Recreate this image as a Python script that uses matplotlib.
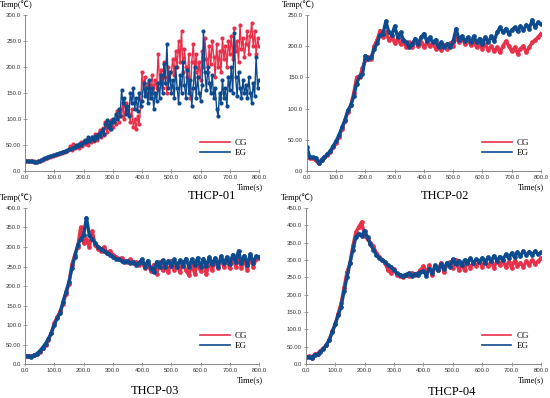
import numpy as np
import matplotlib.pyplot as plt
from matplotlib.lines import Line2D

# ---- data ----
t01 = np.arange(0, 801, 5)
cg01 = [20, 20, 19, 20, 19, 20, 19, 17, 18,
        19, 20, 21, 22, 23, 24, 25, 26, 27, 28, 29, 30,
        31, 33, 32, 35, 34, 37, 36, 39, 38, 42,
        48, 41, 52, 44, 46, 50, 45, 55, 48, 58,
        52, 60, 50, 62, 55, 65, 58, 72, 60, 70,
        78, 65, 82, 70, 95, 75, 88, 80, 98, 85,
        100, 90, 115, 95, 120, 105, 125, 100, 130, 115,
        110, 95, 120, 85, 100, 80, 105, 90, 125, 190,
        165, 180, 150, 170, 140, 165, 185, 150, 175, 160,
        225, 170, 195, 160, 210, 180, 150, 200, 175, 190,
        215, 185, 230, 200, 250, 210, 270, 190, 235, 200,
        180, 225, 140, 210, 245, 190, 225, 180, 210, 175,
        230, 200, 255, 215, 190, 240, 205, 250, 220, 180,
        245, 200, 230, 190, 255, 215, 240, 200, 250, 225,
        260, 215, 275, 230, 250, 210, 280, 235, 255, 220,
        245, 270, 225, 260, 285, 240, 270, 225, 255, 240]
eg01 = [20, 19, 20, 19, 20, 19, 18, 17, 18,
        19, 20, 22, 23, 24, 25, 26, 27, 28, 29, 30, 31,
        32, 33, 34, 35, 36, 37, 38, 39, 40, 42,
        43, 45, 44, 47, 49, 48, 52, 50, 54, 56,
        60, 55, 65, 58, 62, 66, 60, 68, 64, 72,
        68, 75, 80, 72, 90, 98, 85, 95, 80, 100,
        95, 110, 100, 120, 105, 155, 130, 140, 110, 125,
        105, 150, 130, 160, 120, 140, 115, 150, 125, 135,
        170, 145, 160, 130, 175, 140, 160, 120, 150, 135,
        170, 140, 185, 150, 205, 170, 245, 160, 190, 150,
        175, 140, 200, 160, 130, 185, 150, 210, 165, 140,
        195, 150, 175, 125, 160, 200, 140, 180, 150, 135,
        165, 270, 190, 155, 200, 170, 150, 185, 140, 160,
        120, 105, 150, 130, 175, 140, 160, 125, 180, 155,
        200, 150, 265, 180, 145, 190, 160, 140, 175, 150,
        165, 140, 180, 150, 130, 170, 145, 220, 160, 175]

t10 = np.arange(0, 801, 10)
cg02 = [22, 20, 20, 18, 12, 18, 22, 25, 30, 38,
        45, 55, 68, 80, 95, 105, 125, 150, 150, 165,
        178, 182, 180, 200, 210, 225, 215, 222, 210, 215,
        205, 212, 203, 210, 198, 206, 198, 208, 200, 207,
        198, 206, 200, 205, 196, 203, 194, 202, 196, 205,
        200, 215, 206, 212, 204, 210, 202, 208, 198, 204,
        196, 203, 194, 200, 192, 198, 190, 200, 208, 200,
        192, 198, 188, 196, 200, 190, 198, 206, 210, 214, 220]
eg02 = [38, 22, 22, 20, 13, 18, 22, 27, 32, 40,
        48, 58, 70, 82, 97, 105, 120, 140, 152, 155,
        185, 180, 182, 195, 205, 218, 220, 240, 222, 218,
        232, 215, 222, 210, 206, 198, 204, 212, 204, 214,
        220, 208, 214, 206, 210, 198, 206, 198, 204, 198,
        208, 228, 210, 216, 208, 214, 206, 216, 206, 212,
        204, 214, 206, 216, 208, 222, 230, 222, 228, 220,
        226, 230, 224, 232, 226, 234, 228, 242, 230, 238, 235]
cg03 = [20, 20, 20, 22, 25, 32, 40, 50, 62, 80,
        105, 120, 135, 155, 180, 205, 255, 280, 300, 350,
        310, 320, 300, 340, 305, 295, 290, 300, 285, 290,
        280, 275, 270, 272, 265, 262, 268, 260, 262, 255,
        262, 245, 258, 238, 255, 232, 262, 240, 258, 235,
        265, 242, 258, 236, 262, 240, 228, 255, 232, 260,
        238, 258, 230, 262, 240, 266, 245, 270, 248, 268,
        245, 272, 250, 268, 246, 270, 240, 275, 250, 268, 272]
eg03 = [20, 20, 19, 22, 26, 33, 42, 52, 65, 80,
        100, 118, 130, 160, 185, 210, 245, 275, 305, 320,
        330, 375, 330, 320, 310, 300, 295, 290, 285, 280,
        275, 270, 268, 265, 262, 265, 258, 262, 255, 260,
        268, 250, 265, 245, 235, 262, 248, 266, 250, 264,
        252, 268, 248, 266, 252, 270, 250, 268, 254, 272,
        250, 270, 252, 274, 256, 272, 250, 276, 258, 274,
        256, 280, 262, 290, 258, 278, 255, 282, 260, 276, 275]
cg04 = [20, 22, 18, 28, 30, 38, 45, 55, 70, 95,
        115, 145, 175, 220, 265, 290, 340, 380, 395, 410,
        370, 360, 350, 340, 320, 310, 300, 290, 270, 262,
        275, 258, 255, 252, 258, 255, 262, 258, 262, 270,
        282, 262, 285, 258, 280, 270, 292, 265, 285, 295,
        278, 300, 272, 288, 270, 296, 278, 292, 282, 298,
        280, 300, 282, 295, 278, 298, 285, 300, 280, 295,
        278, 298, 284, 292, 280, 296, 286, 300, 288, 296, 305]
eg04 = [20, 20, 18, 26, 28, 36, 44, 55, 70, 92,
        115, 140, 165, 210, 250, 290, 330, 365, 375, 370,
        385, 365, 345, 330, 315, 305, 300, 295, 285, 280,
        270, 262, 258, 255, 258, 262, 255, 260, 258, 265,
        268, 255, 275, 262, 285, 270, 288, 275, 292, 280,
        302, 288, 298, 285, 300, 290, 305, 292, 302, 295,
        306, 292, 308, 296, 312, 298, 310, 300, 316, 305,
        320, 308, 322, 312, 326, 314, 324, 315, 326, 316, 322]

panels = [
    ("THCP-01", t01, cg01, eg01, 300, ["0.0", "50.00", "100.0", "150.0", "200.0", "250.0", "300.0"]),
    ("THCP-02", t10, cg02, eg02, 250, ["0.0", "50.00", "100.0", "150.0", "200.0", "250.0"]),
    ("THCP-03", t10, cg03, eg03, 400, ["0.0", "50.00", "100.0", "150.0", "200.0", "250.0", "300.0", "350.0", "400.0"]),
    ("THCP-04", t10, cg04, eg04, 450, ["0.0", "50.00", "100.0", "150.0", "200.0", "250.0", "300.0", "350.0", "400.0", "450.0"]),
]
xticks = np.arange(0, 801, 100)
xlabels = ["%.1f" % v for v in xticks]

red = "#e8304a"
blue = "#0d4a8e"
serif = ["Liberation Serif", "Noto Sans CJK SC", "DejaVu Sans"]
sans = "Liberation Sans"

boxes = [[0.0455, 0.5704, 0.4255, 0.392],
         [0.558, 0.5704, 0.4256, 0.392],
         [0.0455, 0.0854, 0.4255, 0.392],
         [0.556, 0.0854, 0.4276, 0.392]]
title_pos = [(0.80, -0.16), (0.59, -0.16), (0.556, -0.17), (0.62, -0.18)]

fig = plt.figure(figsize=(5.5, 3.98), dpi=100)
for i, (name, t, cg, eg, ymax, ylabels) in enumerate(panels):
    ax = fig.add_axes(boxes[i])
    lw = 1.0 if i == 0 else 2.4
    ms = 3.0 if i == 0 else 3.4
    ax.plot(t, cg, color=red, lw=lw, marker="o", ms=ms, mew=0)
    ax.plot(t, eg, color=blue, lw=lw, marker="o", ms=ms, mew=0)
    ax.set_xlim(0, 800)
    ax.set_ylim(0, ymax)
    ax.set_xticks(xticks)
    ax.set_xticklabels(xlabels)
    ax.set_yticks(np.arange(0, ymax + 1, 50))
    ax.set_yticklabels(ylabels)
    for lab in ax.get_xticklabels() + ax.get_yticklabels():
        lab.set_fontfamily(sans)
        lab.set_fontsize(4.3)
        lab.set_color("#333333")
    ax.tick_params(direction="inout", length=2.5, width=0.5, color="#777777", pad=1.5)
    for s in ["top", "right"]:
        ax.spines[s].set_visible(False)
    for s in ["left", "bottom"]:
        ax.spines[s].set_color("#888888")
        ax.spines[s].set_linewidth(0.7)
    ax.text(-0.107, 1.065, "Temp(\u2103)", transform=ax.transAxes, ha="left", va="center",
            family=serif, fontsize=6)
    ax.text(1.015, -0.105, "Time(s)", transform=ax.transAxes, ha="right", va="center",
            family=serif, fontsize=6)
    ax.text(title_pos[i][0], title_pos[i][1], name, transform=ax.transAxes, ha="center", va="center",
            family=serif, fontsize=9)
    handles = [Line2D([], [], color=red, lw=1.2), Line2D([], [], color=blue, lw=1.2)]
    ax.legend(handles, ["CG", "EG"], loc="lower right", bbox_to_anchor=(0.97, 0.06), frameon=False,
              prop={"family": serif, "size": 6.5}, handlelength=3.3, handletextpad=0.6,
              labelspacing=0.15, borderpad=0)

fig.savefig("out.png", dpi=100)
